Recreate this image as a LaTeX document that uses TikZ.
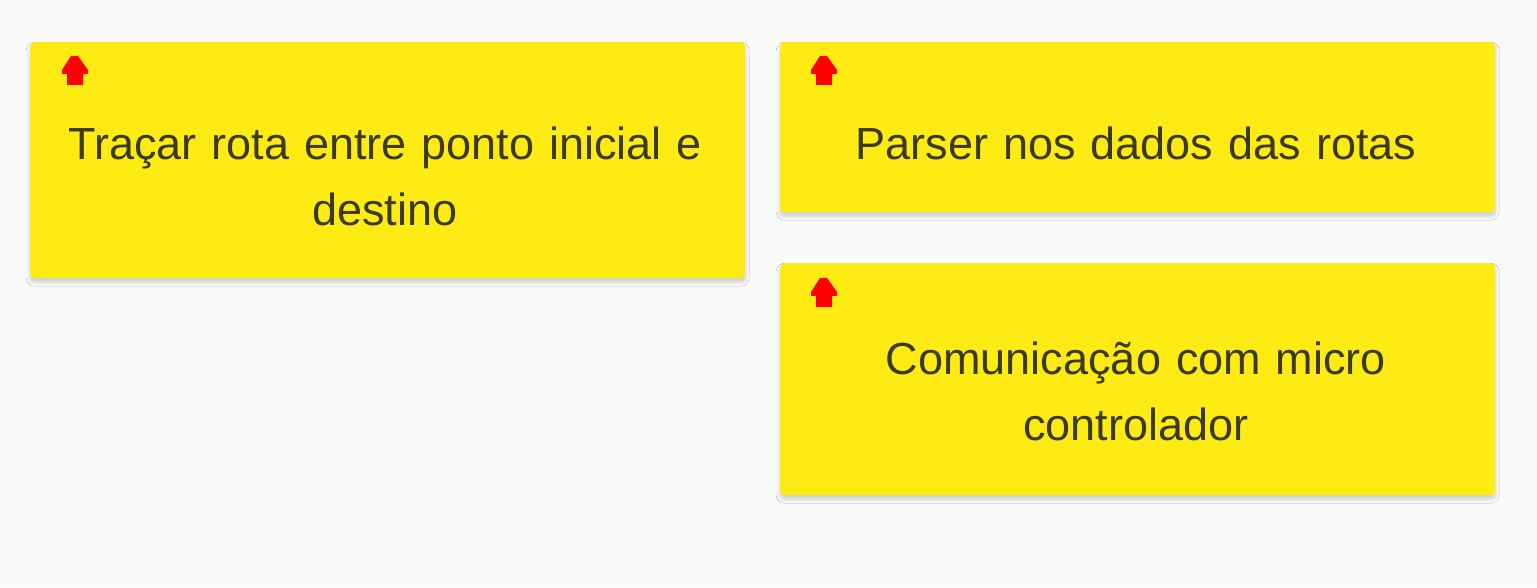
\documentclass[tikz,border=0pt]{standalone}
\usepackage{fontspec}
\setmainfont{Liberation Sans}
\usetikzlibrary{shadows.blur}
\definecolor{bgcol}{HTML}{FAFAFA}
\definecolor{cardyellow}{HTML}{FFEB14}
\definecolor{txtcol}{HTML}{3C3A1E}
\definecolor{iconred}{HTML}{FF0000}
\tikzset{
  card/.style={draw=none, fill=cardyellow, rounded corners=4pt, anchor=north west, inner sep=0pt,
    blur shadow={shadow xshift=0pt, shadow yshift=-4pt, shadow blur radius=4pt, shadow blur steps=6, shadow opacity=18}},
  cardtext/.style={text=txtcol, font=\fontsize{45}{66}\selectfont, align=center, text width=700pt, inner sep=0pt},
  upicon/.style={fill=iconred, draw=none}
}
\newcommand{\upicon}[2]{%
  \fill[upicon] (#1-4,#2+16) -- (#1+3,#2+16) -- (#1+13,#2+2) -- (#1+13,#2-2) -- (#1+8,#2-2) -- (#1+8,#2-13) -- (#1-8,#2-13) -- (#1-8,#2-2) -- (#1-13,#2-2) -- (#1-13,#2+2) -- cycle;}
\begin{document}
\begin{tikzpicture}[x=1pt,y=1pt]
\fill[bgcol] (0,0) rectangle (1537,587);
\useasboundingbox (0,0) rectangle (1537,587);
% cards (y = 587 - pixel y)
\node[card, minimum width=715pt, minimum height=236pt] (c1) at (30,545) {};
\node[card, minimum width=715pt, minimum height=170pt] (c2) at (780,545) {};
\node[card, minimum width=715pt, minimum height=232pt] (c3) at (780,324) {};
% icons
\upicon{75}{515}
\upicon{824}{515}
\upicon{824}{293}
% texts
\node[cardtext] (t1) at (385,411) {Traçar rota entre ponto inicial e\\destino};
\node[cardtext] (t2) at (1136,444) {Parser nos dados das rotas};
\node[cardtext] (t3) at (1136,196) {Comunicação com micro\\controlador};
\end{tikzpicture}
\end{document}
